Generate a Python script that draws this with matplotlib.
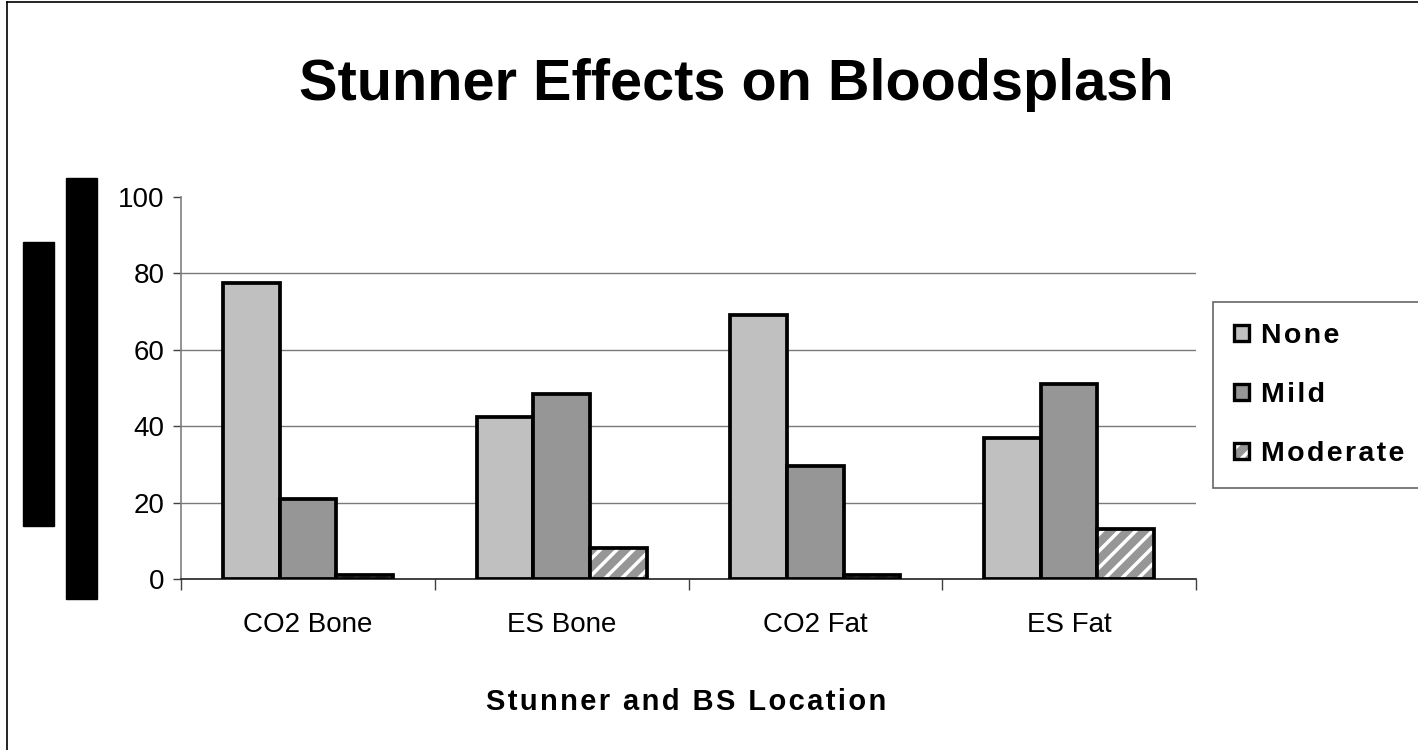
import numpy as np
import matplotlib
matplotlib.use('Agg')
import matplotlib.pyplot as plt
from matplotlib import font_manager, patches
from matplotlib.lines import Line2D
from matplotlib.legend_handler import HandlerTuple

categories = ['CO2 Bone', 'ES Bone', 'CO2 Fat', 'ES Fat']
series_names = ['None', 'Mild', 'Moderate']
none_vals = [77.5, 42.5, 69, 37]
mild_vals = [21, 48.5, 29.5, 51]
moderate_vals = [1, 8, 1, 13]
yticks = [0, 20, 40, 60, 80, 100]
title = 'Stunner Effects on Bloodsplash'
xlabel = 'Stunner and BS Location'


def pick_font(names):
    for name in names:
        try:
            font_manager.findfont(name, fallback_to_default=False)
            return name
        except ValueError:
            pass
    return 'DejaVu Sans'


narrow = pick_font(['Liberation Sans Narrow', 'Liberation Sans', 'DejaVu Sans'])
fams = [narrow, 'DejaVu Sans']
plt.rcParams['font.family'] = fams
plt.rcParams['hatch.linewidth'] = 2.5


def spaced(s):
    return '\u200a'.join(s)


W, H = 1418, 750
fig = plt.figure(figsize=(W / 100, H / 100), dpi=100)

def fx(px):
    return px / W

def fy(py):
    return 1 - py / H

ax = fig.add_axes([fx(181), fy(579), fx(1196) - fx(181), fy(197) - fy(579)])

x = np.arange(len(categories))
bw = 0.2234
fill_colors = ['#c0c0c0', '#969696']
edge_lw = 2.7

for i, vals in enumerate([none_vals, mild_vals]):
    ax.bar(x + (i - 1) * bw, vals, bw, color=fill_colors[i],
           edgecolor='black', linewidth=edge_lw, zorder=3)

# moderate: gray with white stripes, then a black outline on top
ax.bar(x + bw, moderate_vals, bw, color='#969696', edgecolor='white',
       hatch='//', linewidth=0, zorder=3)
ax.bar(x + bw, moderate_vals, bw, color='none', edgecolor='black',
       linewidth=edge_lw, zorder=4)

ax.set_xlim(-0.5, len(categories) - 0.5)
ax.set_ylim(0, 100)
ax.set_yticks(yticks)
ax.set_yticklabels([str(v) for v in yticks])
for v in yticks[1:-1]:
    ax.axhline(v, color='#7a7a7a', lw=1, zorder=1)

ax.set_xticks(x)
ax.set_xticklabels(categories)
ax.set_xticks(np.arange(-0.5, len(categories)), minor=True)
ax.tick_params(axis='x', which='major', length=0, pad=24, labelsize=20)
ax.tick_params(axis='x', which='minor', length=8, width=1, color='#404040')
ax.tick_params(axis='y', length=6, width=1, color='#404040', pad=6, labelsize=20)

for side in ['top', 'right']:
    ax.spines[side].set_visible(False)
ax.spines['left'].set_color('#808080')
ax.spines['bottom'].set_color('#202020')
ax.spines['left'].set_linewidth(1.2)
ax.spines['bottom'].set_linewidth(1.2)

fig.text(fx(736), fy(100), title, ha='center', va='baseline',
         fontsize=41.5, fontweight='bold')
fig.text(fx(686), fy(710), spaced(xlabel), ha='center', va='baseline',
         fontsize=21, fontweight='bold')

# redaction bars on the left
fig.patches.append(patches.Rectangle((fx(23), fy(526)), fx(31), fy(242) - fy(526),
                                     transform=fig.transFigure, color='black'))
fig.patches.append(patches.Rectangle((fx(66), fy(599)), fx(31), fy(178) - fy(599),
                                     transform=fig.transFigure, color='black'))

# outer border (top and left)
fig.add_artist(Line2D([fx(7), 1], [fy(2), fy(2)], transform=fig.transFigure,
                      color='black', lw=1.2))
fig.add_artist(Line2D([fx(7), fx(7)], [0, fy(2)], transform=fig.transFigure,
                      color='black', lw=1.2))

handles = [
    patches.Patch(facecolor='#c0c0c0', edgecolor='black', linewidth=2.4),
    patches.Patch(facecolor='#969696', edgecolor='black', linewidth=2.4),
    (patches.Patch(facecolor='#969696', edgecolor='white', hatch='//', linewidth=0),
     patches.Patch(facecolor='none', edgecolor='black', linewidth=2.4)),
]
leg = fig.legend(handles, [spaced(s) for s in series_names],
                 loc='upper left', bbox_to_anchor=(fx(1213), fy(302)),
                 bbox_transform=fig.transFigure, borderaxespad=0,
                 prop={'family': fams, 'weight': 'bold', 'size': 20.5},
                 handlelength=0.5, handleheight=0.5, handletextpad=0.45,
                 labelspacing=1.15, borderpad=0.75, frameon=True, fancybox=False,
                 handler_map={tuple: HandlerTuple(ndivide=1)})
leg.get_frame().set_edgecolor('#404040')
leg.get_frame().set_linewidth(1.2)

fig.savefig('out.png', dpi=100)
